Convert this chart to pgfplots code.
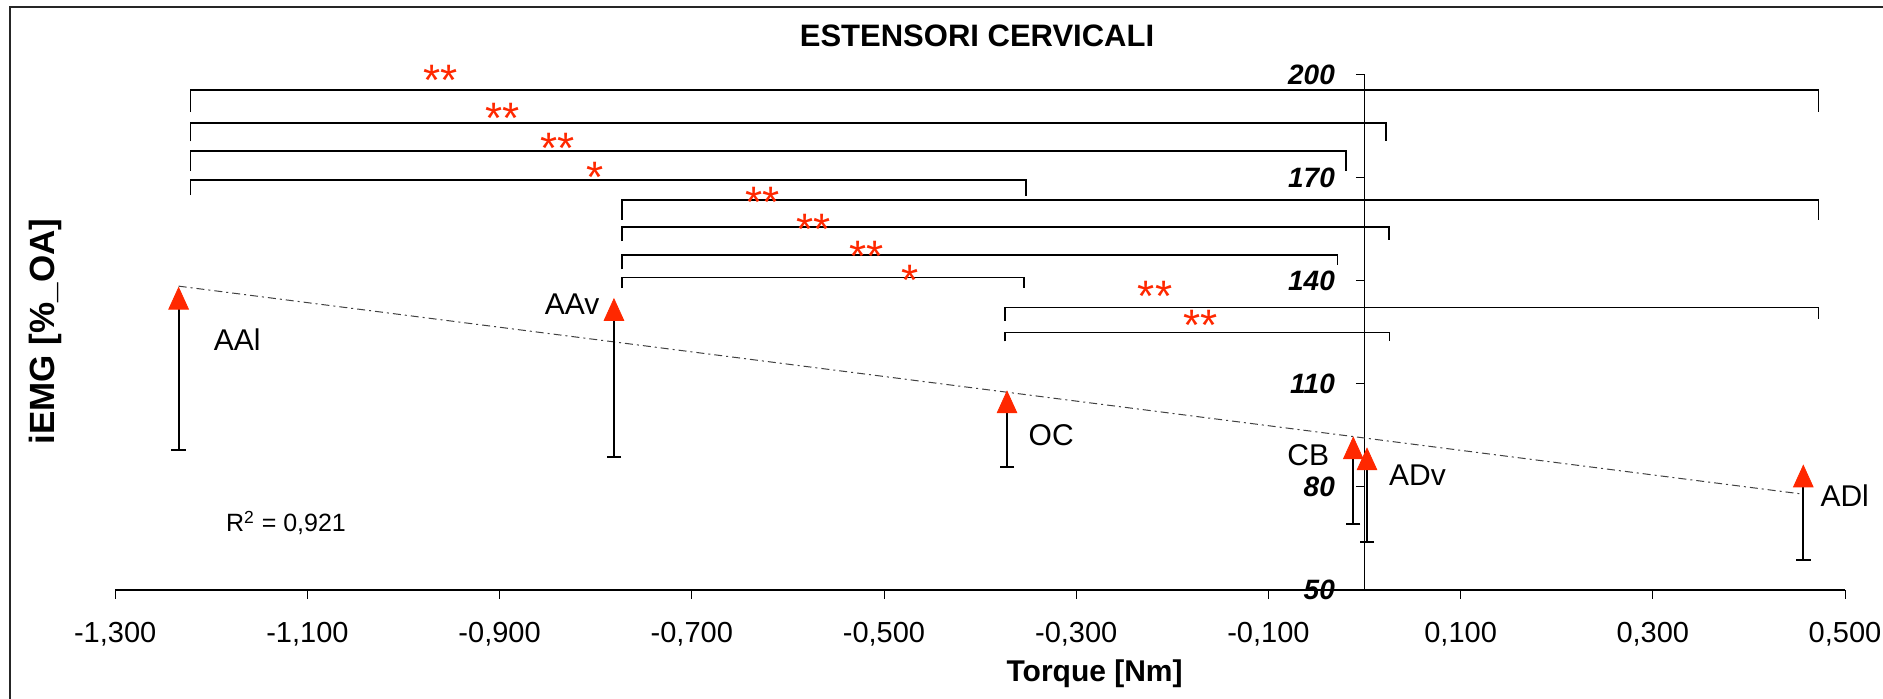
\documentclass[border=0pt]{standalone}
\usepackage{fontspec}
\setmainfont{Liberation Sans}
\usepackage{pgfplots}
\pgfplotsset{compat=1.18}
\definecolor{mred}{RGB}{255,40,0}
\begin{document}
\begin{tikzpicture}
\useasboundingbox (0,0) rectangle (941.5pt,349.5pt);
\draw[line width=0.8pt, black!85] (4.9pt,-2pt) -- (4.9pt,346pt) -- (945pt,346pt);
\begin{axis}[
  scale only axis, width=864.9pt, height=257.5pt,
  at={(57.6pt,54.5pt)}, anchor=south west,
  xmin=-1.3, xmax=0.5, ymin=50, ymax=200,
  clip=false,
  axis x line*=bottom, axis y line*=middle,
  x axis line style={-, line width=0.6pt},
  y axis line style={-, line width=0.6pt},
  hide obscured x ticks=false, hide obscured y ticks=false,
  xtick={-1.3,-1.1,-0.9,-0.7,-0.5,-0.3,-0.1,0.1,0.3,0.5},
  ytick={50,80,110,140,170,200},
  tick align=outside, major tick length=4.3pt,
  tick style={black, line width=0.5pt},
  xticklabel style={font=\fontsize{14.5}{16}\selectfont, yshift=-8.5pt,
    /pgf/number format/.cd, fixed, fixed zerofill, precision=3, use comma, 1000 sep={}, assume math mode=true},
  yticklabel style={font=\bfseries\itshape\fontsize{14}{16}\selectfont, xshift=-7pt,
    /pgf/number format/.cd, fixed, precision=0, assume math mode=true},
  xlabel={Torque [Nm]},
  xlabel style={font=\bfseries\fontsize{15}{18}\selectfont, at={(axis description cs:0.5662,-0.178)}, anchor=base},
  ylabel={iEMG [\%\_OA]},
  ylabel style={font=\bfseries\fontsize{17.5}{20}\selectfont, at={(axis description cs:-0.0406,0.502)}, anchor=center},
]
% trend line
\addplot[black!75, line width=0.5pt, dash pattern=on 4pt off 2pt on 1pt off 2pt] coordinates {(-1.234,138.5) (0.4566,77.9)};
% significance brackets
\addplot[black, line width=0.85pt] coordinates {(-1.2215,189.2) (-1.2215,195.6) (0.4725,195.6) (0.4725,189.2)};
\addplot[black, line width=0.85pt] coordinates {(-1.2215,180.7) (-1.2215,186.0) (0.0227,186.0) (0.0227,180.7)};
\addplot[black, line width=0.85pt] coordinates {(-1.2215,172.0) (-1.2215,177.8) (-0.0193,177.8) (-0.0193,172.0)};
\addplot[black, line width=0.85pt] coordinates {(-1.2215,165.0) (-1.2215,169.5) (-0.352,169.5) (-0.352,164.8)};
\addplot[black, line width=0.85pt] coordinates {(-0.7725,157.9) (-0.7725,163.5) (0.4725,163.5) (0.4725,157.9)};
\addplot[black, line width=0.85pt] coordinates {(-0.7725,151.6) (-0.7725,155.8) (0.0254,155.8) (0.0254,151.8)};
\addplot[black, line width=0.85pt] coordinates {(-0.7725,143.4) (-0.7725,147.6) (-0.028,147.6) (-0.028,144.7)};
\addplot[black, line width=0.85pt] coordinates {(-0.7725,137.9) (-0.7725,141.0) (-0.354,141.0) (-0.354,137.9)};
\addplot[black, line width=0.85pt] coordinates {(-0.3743,128.4) (-0.3743,132.3) (0.4725,132.3) (0.4725,128.9)};
\addplot[black, line width=0.85pt] coordinates {(-0.3743,122.4) (-0.3743,125.0) (0.026,125.0) (0.026,122.6)};
% data points with lower error bars
\addplot[only marks, mark=triangle*, mark size=5.66pt,
  mark options={fill=mred, draw=mred, yscale=1.27},
  error bars/.cd, y dir=minus, y explicit,
  error bar style={line width=0.9pt, black},
  error mark options={rotate=90, mark size=3.6pt, line width=1pt, black}]
  table[x=x, y=y, y error minus=e] {
x y e
-1.234 133.9 43.0
-0.781 130.6 41.9
-0.372 103.7 17.9
-0.0117 90.3 21.1
0.0026 87.1 23.1
0.4566 82.1 23.4
};
% point labels
\node[font=\fontsize{15}{18}\selectfont] at (axis cs:-1.173,122.9) {AAl};
\node[font=\fontsize{15}{18}\selectfont] at (axis cs:-0.8245,133.2) {AAv};
\node[font=\fontsize{15}{18}\selectfont] at (axis cs:-0.326,95.2) {OC};
\node[font=\fontsize{15}{18}\selectfont] at (axis cs:-0.0585,89.3) {CB};
\node[font=\fontsize{15}{18}\selectfont] at (axis cs:0.0552,83.4) {ADv};
\node[font=\fontsize{15}{18}\selectfont] at (axis cs:0.4997,77.6) {ADl};
\node[font=\fontsize{12.5}{15}\selectfont, anchor=base west] at (axis cs:-1.192,66.9) {R\textsuperscript{2} = 0,921};
% significance stars
\begin{scope}[every node/.style={text=mred, font=\fontsize{22}{26}\selectfont, anchor=base, yshift=-12.6pt, inner sep=0pt}]
\node at (axis cs:-0.961,201.5) {**};
\node at (axis cs:-0.897,190.3) {**};
\node at (axis cs:-0.840,181.6) {**};
\node at (axis cs:-0.801,173.2) {*};
\node at (axis cs:-0.626,165.7) {**};
\node at (axis cs:-0.573,157.9) {**};
\node at (axis cs:-0.518,150.0) {**};
\node at (axis cs:-0.473,143.1) {*};
\node at (axis cs:-0.218,138.4) {**};
\node at (axis cs:-0.171,130.1) {**};
\end{scope}
\end{axis}
\node[anchor=base, font=\bfseries\fontsize{15.5}{19}\selectfont] at (488.5pt,326.2pt) {ESTENSORI CERVICALI};
\end{tikzpicture}
\end{document}
